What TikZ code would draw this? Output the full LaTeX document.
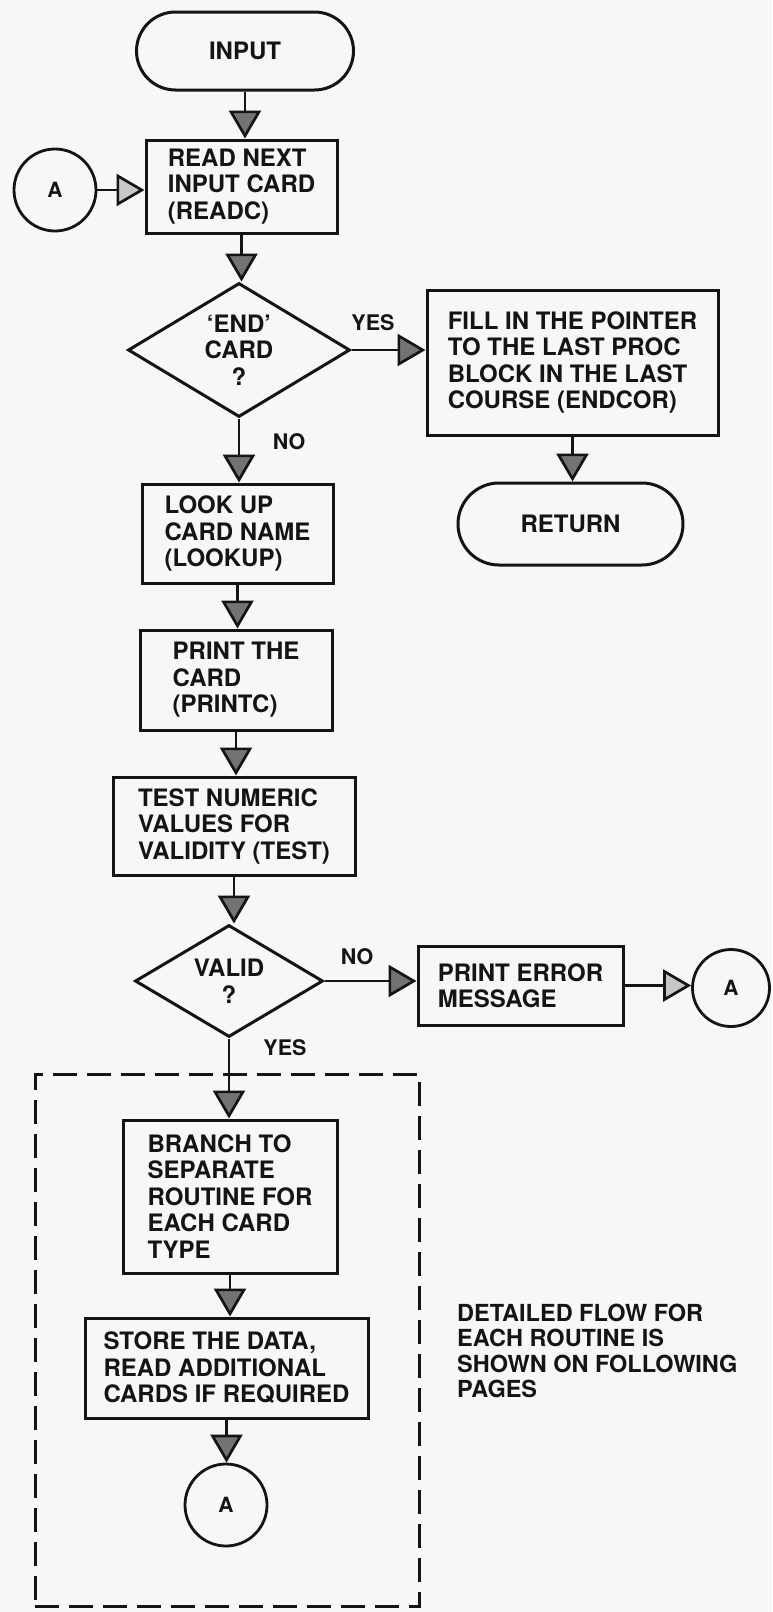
\documentclass[tikz,border=0pt]{standalone}
\usepackage{fontspec}
\setmainfont{TeX Gyre Heros}
\usetikzlibrary{arrows.meta,shapes.geometric,shapes.misc}
\definecolor{ink}{RGB}{20,20,20}
\definecolor{paper}{RGB}{247,247,246}
\begin{document}
\begin{tikzpicture}[x=1pt,y=-1pt,
  every node/.style={text=ink, font=\bfseries\fontsize{24}{26.5}\selectfont},
  procbox/.style={draw=ink, line width=3pt, rectangle, align=left, inner sep=0pt},
  term/.style={draw=ink, line width=3pt, rounded rectangle, inner sep=0pt},
  decision/.style={draw=ink, line width=3pt, diamond, aspect=1.66, align=center, inner sep=0pt},
  conn/.style={draw=ink, line width=2.8pt, circle, inner sep=0pt, font=\bfseries\fontsize{21}{24}\selectfont},
  lbl/.style={inner sep=0pt, font=\bfseries\fontsize{21.5}{24}\selectfont},
  note/.style={inner sep=0pt, align=left, font=\bfseries\fontsize{23.5}{25.3}\selectfont},
  groupbox/.style={draw=ink, line width=3pt, dash pattern=on 24pt off 10pt, rectangle, inner sep=0pt},
  flow/.style={draw=ink, line width=2.7pt, -{Triangle[width=32pt,length=28pt,fill=black!55]}},
  flowlight/.style={draw=ink, line width=2.7pt, -{Triangle[width=32pt,length=28pt,fill=black!22]}}
]
% page
\path[fill=paper] (0,0) rectangle (772,1612);

% main column
\node[term, minimum width=217, minimum height=78] (input) at (245,51) {INPUT};
\node[procbox, minimum width=191, minimum height=93] (readc) at (241.5,186.5) {READ NEXT\\INPUT CARD\\(READC)};
\node[conn, minimum size=82] (a1) at (55,190) {A};
\node[decision, minimum width=222, minimum height=134] (endq) at (239,350) {‘END’\\CARD\\?};
\node[procbox, minimum width=291, minimum height=145] (endcor) at (572.5,362.5) {FILL IN THE POINTER\\TO THE LAST PROC\\BLOCK IN THE LAST\\COURSE (ENDCOR)};
\node[term, minimum width=225, minimum height=82] (ret) at (570.5,524) {RETURN};
\node[procbox, minimum width=191, minimum height=99] (lookup) at (237.5,533.5) {LOOK UP\\CARD NAME\\(LOOKUP)};
\node[procbox, minimum width=192, minimum height=100] (printc) at (236,680) {PRINT THE\\CARD\\(PRINTC)};
\node[procbox, minimum width=242, minimum height=98] (test) at (234,826) {TEST NUMERIC\\VALUES FOR\\VALIDITY (TEST)};
\node[decision, minimum width=188, minimum height=112] (valid) at (229,981) {VALID\\?};
\node[procbox, minimum width=205, minimum height=79] (perr) at (520.5,985.5) {PRINT ERROR\\MESSAGE};
\node[conn, minimum size=77] (a2) at (731,988) {A};

% per-card-type routines
\node[groupbox, minimum width=384, minimum height=532] (routines) at (227,1340) {};
\node[procbox, minimum width=214, minimum height=153] (branch) at (230,1196.5) {BRANCH TO\\SEPARATE\\ROUTINE FOR\\EACH CARD\\TYPE};
\node[procbox, minimum width=283, minimum height=100] (store) at (226.5,1368) {STORE THE DATA,\\READ ADDITIONAL\\CARDS IF REQUIRED};
\node[conn, minimum size=82] (a3) at (226,1505) {A};
\node[note, anchor=west] (remark) at (457,1351) {DETAILED FLOW FOR\\EACH ROUTINE IS\\SHOWN ON FOLLOWING\\PAGES};

% branch labels
\node[lbl] (yes1) at (373,323) {YES};
\node[lbl] (no1) at (289,442) {NO};
\node[lbl] (no2) at (357,957) {NO};
\node[lbl] (yes2) at (285,1048) {YES};

% connectors
\draw[flow] (input.south) -- (input.south |- readc.north);
\draw[flowlight] (a1.east) -- (a1.east -| readc.west);
\draw[flow] (readc.south) -- (readc.south |- endq.north);
\draw[flow] (endq.east) -- (endq.east -| endcor.west);
\draw[flow] (endcor.south) -- (endcor.south |- ret.north);
\draw[flow] (endq.south) -- (endq.south |- lookup.north);
\draw[flow] (lookup.south) -- (lookup.south |- printc.north);
\draw[flow] (printc.south) -- (printc.south |- test.north);
\draw[flow] (test.south) -- (test.south |- valid.north);
\draw[flow] (valid.east) -- (valid.east -| perr.west);
\draw[flowlight] (perr.east) -- (perr.east -| a2.west);
\draw[flow] (valid.south) -- (valid.south |- branch.north);
\draw[flow] (branch.south) -- (branch.south |- store.north);
\draw[flow] (store.south) -- (store.south |- a3.north);
\end{tikzpicture}
\end{document}
